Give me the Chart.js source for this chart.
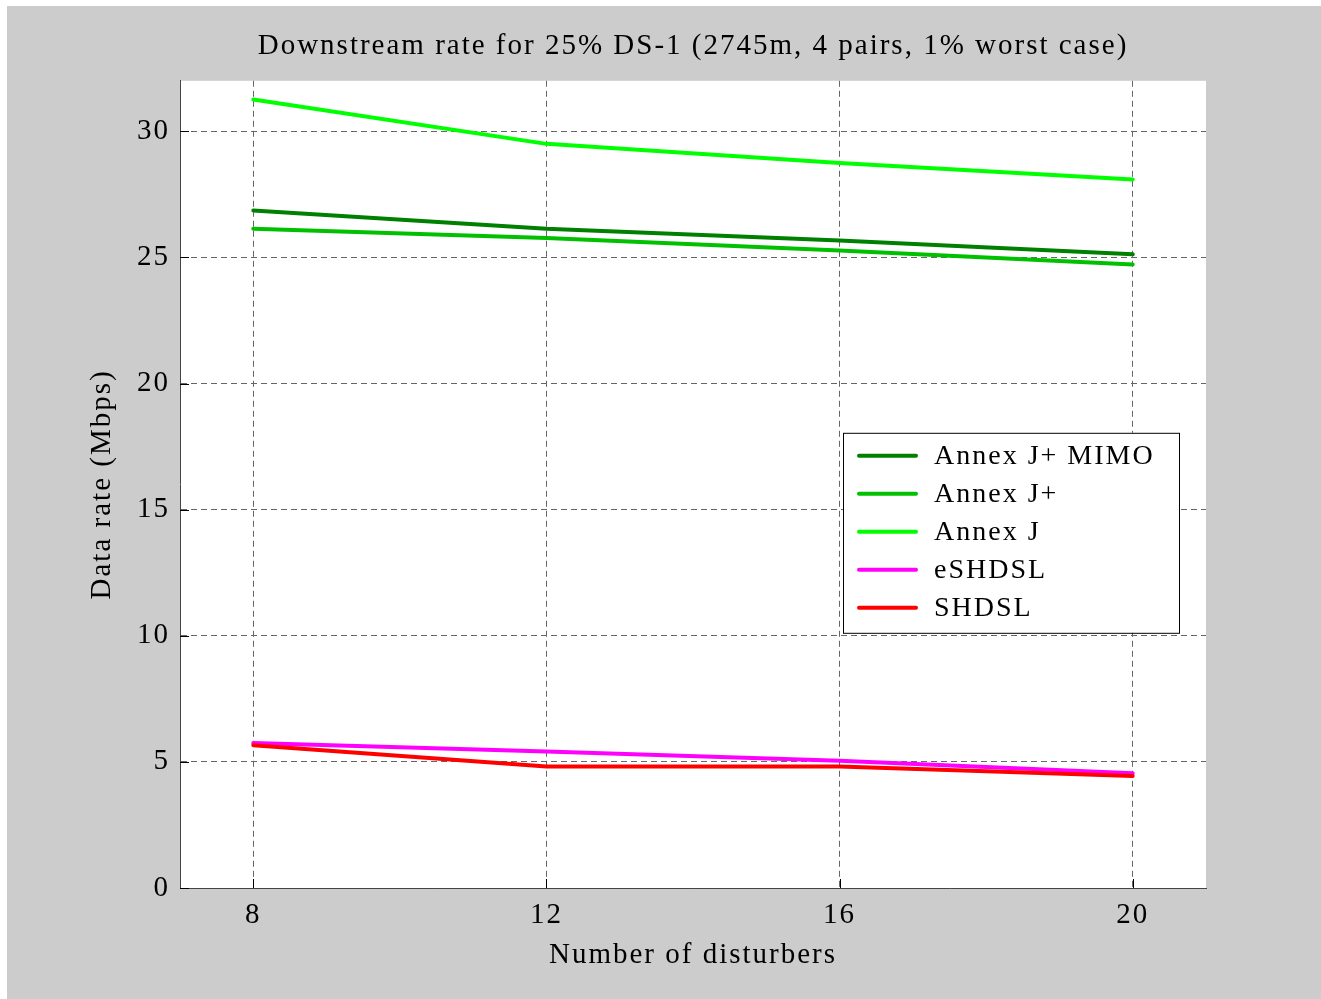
<!DOCTYPE html>
<html>
<head>
<meta charset="utf-8">
<title>Downstream rate for 25% DS-1</title>
<script src="https://cdn.jsdelivr.net/npm/chart.js@4/dist/chart.umd.min.js"></script>
<style>
  html, body { margin: 0; padding: 0; background: #ffffff; }
  #wrap { position: absolute; left: 7px; top: 6px; width: 1314px; height: 993px; background: #cccccc; }
  canvas { display: block; }
</style>
</head>
<body>
<div id="wrap"><canvas id="rate" width="1314" height="993"></canvas></div>
<script>
// number of disturbers on the x axis
const disturbers = [8, 12, 16, 20];

// downstream data rate in Mbps, one list per scheme
const annexJPlusMimo = [26.86, 26.13, 25.67, 25.12];
const annexJPlus = [26.13, 25.77, 25.27, 24.72];
const annexJ = [31.26, 29.50, 28.74, 28.09];
const eshdsl = [5.75, 5.41, 5.04, 4.55];
const shdsl = [5.66, 4.82, 4.82, 4.44];

const seriesNames = ['Annex J+ MIMO', 'Annex J+', 'Annex J', 'eSHDSL', 'SHDSL'];
const seriesColors = ['#008000', '#00c000', '#00ff00', '#ff00ff', '#ff0000'];
const seriesValues = [annexJPlusMimo, annexJPlus, annexJ, eshdsl, shdsl];

const xTicks = [8, 12, 16, 20];
const yTicks = [0, 5, 10, 15, 20, 25, 30];

const FONT = '"Liberation Serif", "Times New Roman", serif';

const datasets = seriesValues.map((vals, i) => ({
  label: seriesNames[i],
  data: vals.map((v, k) => ({ x: disturbers[k], y: v })),
  borderColor: seriesColors[i],
  backgroundColor: seriesColors[i],
  borderWidth: 4,
  borderCapStyle: 'round',
  borderJoinStyle: 'round',
  pointRadius: 0,
  tension: 0,
  fill: false,
  order: seriesValues.length - i, // later series sit on top
}));

// white plot area on the grey figure, and the loose letter spacing of the text
const plotBackground = {
  id: 'plotBackground',
  beforeDraw(chart) {
    const { ctx, chartArea: a } = chart;
    ctx.letterSpacing = '2px';
    ctx.save();
    ctx.fillStyle = '#ffffff';
    ctx.fillRect(a.left, a.top, a.right - a.left, a.bottom - a.top);
    ctx.restore();
  },
};

// short tick marks pointing into the axes
const innerTicks = {
  id: 'innerTicks',
  afterDatasetsDraw(chart) {
    const { ctx, chartArea: a, scales } = chart;
    const len = 9;
    ctx.save();
    ctx.strokeStyle = '#000000';
    ctx.lineWidth = 1;
    ctx.beginPath();
    scales.y.ticks.forEach((t) => {
      const y = Math.round(scales.y.getPixelForValue(t.value)) + 0.5;
      ctx.moveTo(a.left, y);
      ctx.lineTo(a.left + len, y);
    });
    scales.x.ticks.forEach((t) => {
      const x = Math.round(scales.x.getPixelForValue(t.value)) + 0.5;
      ctx.moveTo(x, a.bottom);
      ctx.lineTo(x, a.bottom - len);
    });
    ctx.stroke();
    ctx.restore();
  },
};

// boxed legend inside the plot, right side
const boxLegend = {
  id: 'boxLegend',
  afterDraw(chart) {
    const { ctx, chartArea: a } = chart;
    const w = 336, h = 200;
    const x0 = a.right - 27 - w;
    const y0 = a.top + 352;
    ctx.save();
    ctx.fillStyle = '#ffffff';
    ctx.fillRect(x0, y0, w, h);
    ctx.strokeStyle = '#000000';
    ctx.lineWidth = 1;
    ctx.strokeRect(x0 + 0.5, y0 + 0.5, w, h);
    ctx.font = '28px ' + FONT;
    ctx.textBaseline = 'middle';
    ctx.fillStyle = '#000000';
    chart.data.datasets.forEach((ds, i) => {
      const y = y0 + 23 + i * 38;
      ctx.strokeStyle = ds.borderColor;
      ctx.lineWidth = 4;
      ctx.lineCap = 'round';
      ctx.beginPath();
      ctx.moveTo(x0 + 16, y);
      ctx.lineTo(x0 + 73, y);
      ctx.stroke();
      ctx.fillText(ds.label, x0 + 91, y + 1);
    });
    ctx.restore();
  },
};

new Chart(document.getElementById('rate'), {
  type: 'line',
  data: { datasets },
  plugins: [plotBackground, innerTicks, boxLegend],
  options: {
    responsive: false,
    animation: false,
    layout: { padding: { left: 0, right: 115, top: 0, bottom: 0 } },
    plugins: {
      legend: { display: false },
      tooltip: { enabled: false },
      title: {
        display: true,
        fullSize: false,
        text: 'Downstream rate for 25% DS-1 (2745m, 4 pairs, 1% worst case)',
        color: '#000000',
        font: { family: FONT, size: 29, weight: 'normal', lineHeight: 1.2 },
        padding: { top: 23, bottom: 17 },
      },
    },
    scales: {
      x: {
        type: 'linear',
        min: 7,
        max: 21,
        afterBuildTicks: (axis) => { axis.ticks = xTicks.map((v) => ({ value: v })); },
        afterFit: (axis) => { axis.height = 111; },
        grid: { color: '#666666', lineWidth: 1, drawTicks: false },
        border: { display: true, color: '#444444', width: 1, dash: [6, 4] },
        ticks: {
          padding: 10,
          color: '#000000',
          font: { family: FONT, size: 29 },
          maxRotation: 0,
        },
        title: {
          display: true,
          text: 'Number of disturbers',
          color: '#000000',
          font: { family: FONT, size: 29, lineHeight: 1.2 },
          padding: { top: 0, bottom: 26 },
        },
      },
      y: {
        type: 'linear',
        min: 0,
        max: 32,
        afterBuildTicks: (axis) => { axis.ticks = yTicks.map((v) => ({ value: v })); },
        afterFit: (axis) => { axis.width = 173; },
        grid: { color: '#666666', lineWidth: 1, drawTicks: false },
        border: { display: true, color: '#444444', width: 1, dash: [6, 4] },
        ticks: {
          padding: 10,
          color: '#000000',
          font: { family: FONT, size: 29 },
        },
        title: {
          display: true,
          text: 'Data rate (Mbps)',
          color: '#000000',
          font: { family: FONT, size: 29, lineHeight: 1.2 },
          padding: { top: 78, bottom: 0 },
        },
      },
    },
  },
});
</script>
</body>
</html>
